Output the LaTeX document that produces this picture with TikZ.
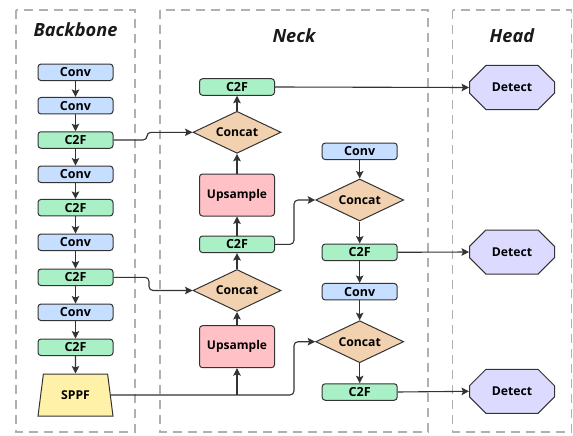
\documentclass[tikz,border=0pt]{standalone}
\usepackage{fontspec}
\setmainfont{Open Sans}
\usetikzlibrary{shapes.geometric,shapes.misc,arrows.meta}

\definecolor{convfill}{HTML}{C6DEFF}
\definecolor{cffill}{HTML}{A9F0C6}
\definecolor{catfill}{HTML}{F2D1B0}
\definecolor{upfill}{HTML}{FFC1C5}
\definecolor{spfill}{HTML}{FFF1A8}
\definecolor{detfill}{HTML}{DCDAFF}
\definecolor{edge}{HTML}{333333}
\definecolor{panelc}{HTML}{B0B0B0}

\tikzset{
  base/.style={draw=edge, line width=1pt, text=black, font=\bfseries\fontsize{12.5}{14}\selectfont, inner sep=0pt},
  blockbox/.style={base, rectangle, rounded corners=3pt, minimum width=75pt, minimum height=16.5pt},
  convbox/.style={blockbox, fill=convfill},
  cfbox/.style={blockbox, fill=cffill},
  upbox/.style={base, rectangle, rounded corners=3pt, fill=upfill, minimum width=75pt, minimum height=42pt, font=\bfseries\fontsize{12}{14}\selectfont},
  catbox/.style={base, diamond, aspect=2.1, fill=catfill, minimum width=88pt, minimum height=42pt, font=\bfseries\fontsize{12.2}{14}\selectfont},
  sppfbox/.style={base, trapezium, trapezium left angle=75, trapezium right angle=75, trapezium stretches=true, fill=spfill, minimum width=75pt, minimum height=42pt, font=\bfseries\fontsize{12.2}{14}\selectfont},
  detbox/.style={base, chamfered rectangle, chamfered rectangle xsep=17pt, chamfered rectangle ysep=12pt, fill=detfill, minimum width=85pt, minimum height=44pt, font=\bfseries\fontsize{12.2}{14}\selectfont},
  panel/.style={draw=panelc, line width=1.8pt, dash pattern=on 9pt off 6pt},
  title/.style={font=\bfseries\itshape\fontsize{18.2}{21}\selectfont, text=black!90},
  arr/.style={draw=edge, line width=1.1pt, -{Stealth[length=7.5pt,width=7.5pt,inset=1.5pt]}, rounded corners=4pt}
}

\begin{document}
\begin{tikzpicture}[x=1pt,y=-1pt]
\useasboundingbox (0,0) rectangle (573,436);

% dashed panels
\draw[panel] (16,10) rectangle (135,432);
\draw[panel] (160,10) rectangle (428,432);
\draw[panel] (452.5,10) rectangle (571.5,432);

\node[title] (tb) at (75.5,30) {Backbone};
\node[title] (tn) at (294,36) {Neck};
\node[title] (th) at (512,36) {Head};

% backbone
\node[convbox] (b1) at (75.5,72.3) {Conv};
\node[convbox] (b2) at (75.5,105.7) {Conv};
\node[cfbox]   (b3) at (75.5,140) {C2F};
\node[convbox] (b4) at (75.5,174.3) {Conv};
\node[cfbox]   (b5) at (75.5,207.7) {C2F};
\node[convbox] (b6) at (75.5,242.3) {Conv};
\node[cfbox]   (b7) at (75.5,277.3) {C2F};
\node[convbox] (b8) at (75.5,312.3) {Conv};
\node[cfbox]   (b9) at (75.5,347.3) {C2F};
\node[sppfbox] (sp) at (75.5,395) {SPPF};

\foreach \a/\b in {b1/b2,b2/b3,b3/b4,b4/b5,b5/b6,b6/b7,b7/b8,b8/b9,b9/sp}
  \draw[arr] (\a) -- (\b);

% neck, upsampling path
\node[cfbox]  (n1) at (237,87) {C2F};
\node[catbox] (n2) at (237,132.3) {Concat};
\node[upbox]  (n3) at (237,195) {Upsample};
\node[cfbox]  (n4) at (237,244.3) {C2F};
\node[catbox] (n5) at (237,290.5) {Concat};
\node[upbox]  (n6) at (237,346.7) {Upsample};

% neck, downsampling path
\node[convbox] (m1) at (359.7,151.3) {Conv};
\node[catbox]  (m2) at (359.7,200) {Concat};
\node[cfbox]   (m3) at (359.7,252.3) {C2F};
\node[convbox] (m4) at (359.7,291.7) {Conv};
\node[catbox]  (m5) at (359.7,341.7) {Concat};
\node[cfbox]   (m6) at (359.7,392) {C2F};

% head
\node[detbox] (d1) at (512,87.5) {Detect};
\node[detbox] (d2) at (512,252) {Detect};
\node[detbox] (d3) at (512,391.3) {Detect};

% vertical flow in the neck
\draw[arr] (n5) -- (n4);
\draw[arr] (n4) -- (n3);
\draw[arr] (n3) -- (n2);
\draw[arr] (n2) -- (n1);
\draw[arr] (n6) -- (n5);
\draw[arr] (m1) -- (m2);
\draw[arr] (m2) -- (m3);
\draw[arr] (m3) -- (m4);
\draw[arr] (m4) -- (m5);
\draw[arr] (m5) -- (m6);

% lateral connections
\draw[arr] (b3.east) -- (147,140) |- (n2.west);
\draw[arr] (b7.east) -- (149,277.3) |- (n5.west);
\draw[arr] (n4.east) -- (294,244.3) |- (m2.west);
\coordinate (sj) at (n6 |- sp.east);
\draw[arr] (sp.east) -- (294,395) |- (m5.west);
\draw[arr] (sj) -- (n6.south);

% outputs to the detection heads
\draw[arr] (n1.east) -- (d1.west);
\draw[arr] (m3.east) -- (d2.west);
\draw[arr] (m6.east) -- (d3.west);
\end{tikzpicture}
\end{document}
